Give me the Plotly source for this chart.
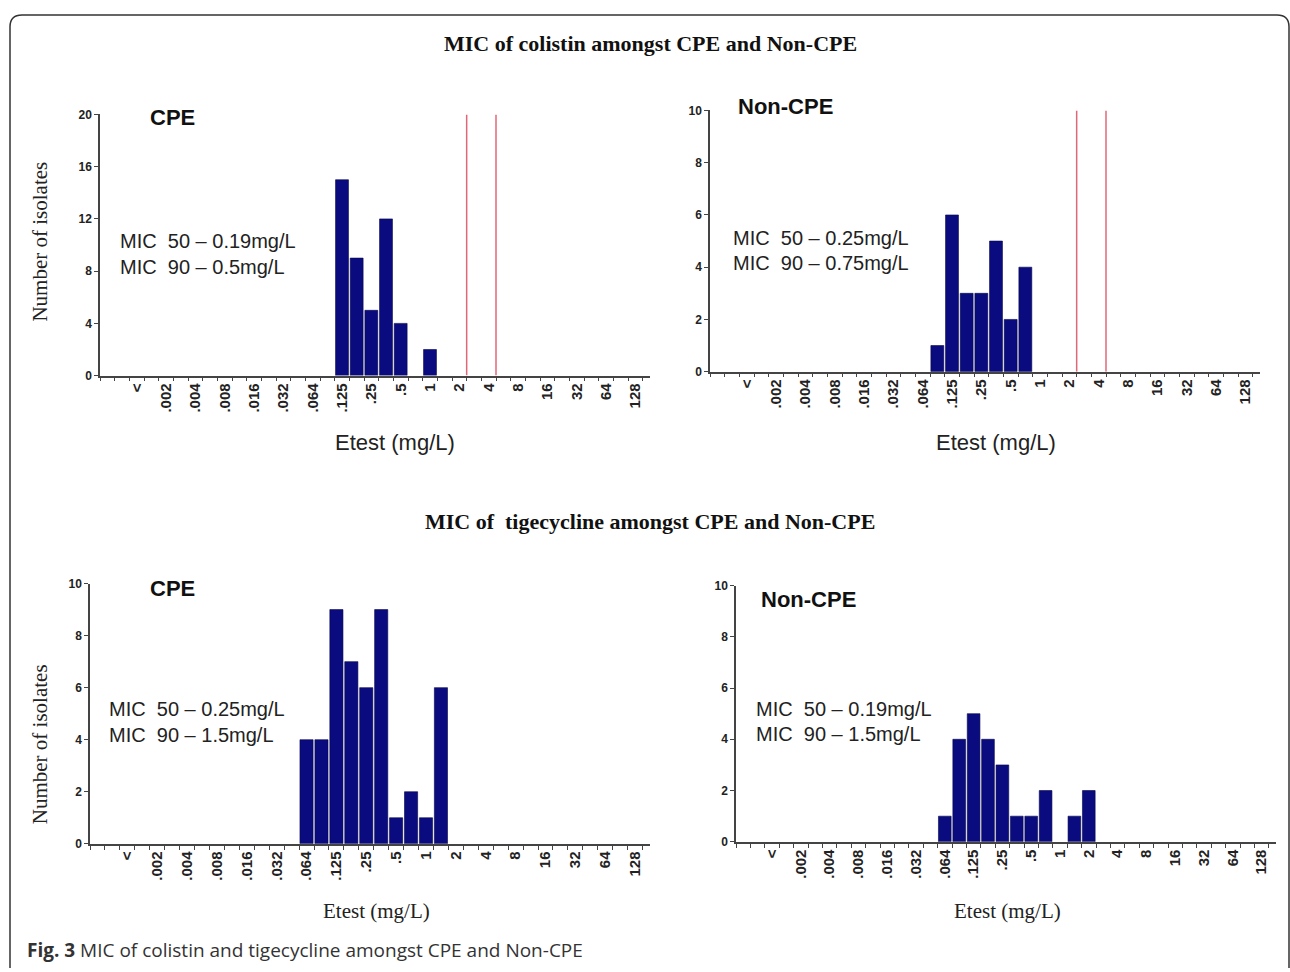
import plotly.graph_objects as go

# ---- data ----
bins = ["pad0", "pad1", "<", "pad3", ".002", ".003", ".004", ".006", ".008", ".012",
        ".016", ".023", ".032", ".047", ".064", ".094", ".125", ".19", ".25", ".38",
        ".5", ".75", "1", "1.5", "2", "3", "4", "6", "8", "12", "16", "24", "32",
        "48", "64", "96", "128"]
labelled_bins = ["<", ".002", ".004", ".008", ".016", ".032", ".064", ".125", ".25",
                 ".5", "1", "2", "4", "8", "16", "32", "64", "128"]

col_cpe_mic = [".125", ".19", ".25", ".38", ".5", "1"]
col_cpe_n = [15, 9, 5, 12, 4, 2]
col_non_mic = [".094", ".125", ".19", ".25", ".38", ".5", ".75"]
col_non_n = [1, 6, 3, 3, 5, 2, 4]
tig_cpe_mic = [".064", ".094", ".125", ".19", ".25", ".38", ".5", ".75", "1", "1.5"]
tig_cpe_n = [4, 4, 9, 7, 6, 9, 1, 2, 1, 6]
tig_non_mic = [".064", ".094", ".125", ".19", ".25", ".38", ".5", ".75", "1.5", "2"]
tig_non_n = [1, 4, 5, 4, 3, 1, 1, 2, 1, 2]

colistin_breakpoints = ["2", "4"]

panel_names = ["CPE", "Non-CPE", "CPE", "Non-CPE"]
mic50_text = ["MIC  50 – 0.19mg/L", "MIC  50 – 0.25mg/L", "MIC  50 – 0.25mg/L", "MIC  50 – 0.19mg/L"]
mic90_text = ["MIC  90 – 0.5mg/L", "MIC  90 – 0.75mg/L", "MIC  90 – 1.5mg/L", "MIC  90 – 1.5mg/L"]
y_max = [20, 10, 10, 10]
y_step = [4, 2, 2, 2]

W, H = 1290, 972
def px(x): return x / W
def py(y): return 1 - y / H

BAR = "#0b0b80"
AX = "#444444"
RED = "#df6878"

fig = go.Figure()

series = [(col_cpe_mic, col_cpe_n), (col_non_mic, col_non_n),
          (tig_cpe_mic, tig_cpe_n), (tig_non_mic, tig_non_n)]
domains_x = [(100, 650), (710, 1260), (90, 650), (736, 1276)]
domains_y = [(109, 374), (105, 370), (585, 849), (587, 847)]

ticktext = [b if b in labelled_bins else "" for b in bins]

for i, (mic, n) in enumerate(series):
    sfx = "" if i == 0 else str(i + 1)
    fig.add_trace(go.Bar(x=mic, y=n, xaxis="x" + sfx, yaxis="y" + sfx,
                         marker=dict(color=BAR, line=dict(color="#05054a", width=0.6)),
                         width=0.88, showlegend=False))
    xa = dict(type="category", categoryorder="array", categoryarray=bins,
              domain=[px(domains_x[i][0]), px(domains_x[i][1])],
              anchor="y" + sfx, range=[-0.5, 37.0],
              tickmode="array", tickvals=bins, ticktext=ticktext, tickson="boundaries",
              tickangle=-90, ticks="outside", ticklen=4, tickwidth=1.2, tickcolor=AX,
              showline=True, linecolor=AX, linewidth=1.5, showgrid=False, zeroline=False,
              tickfont=dict(family="Liberation Sans", size=15, color="#222", weight="bold"))
    ya = dict(domain=[py(domains_y[i][1]), py(domains_y[i][0])], anchor="x" + sfx,
              range=[0, y_max[i]], tickmode="linear", tick0=0, dtick=y_step[i],
              ticks="outside", ticklen=4, tickwidth=1.2, tickcolor=AX,
              showline=True, linecolor=AX, linewidth=1.5, showgrid=False, zeroline=False,
              tickfont=dict(family="Liberation Sans", size=12, color="#222", weight="bold"))
    fig.update_layout(**{"xaxis" + sfx: xa, "yaxis" + sfx: ya})

# colistin breakpoint lines (upper boundary of the breakpoint bins)
for i in (0, 1):
    sfx = "" if i == 0 else str(i + 1)
    for b in colistin_breakpoints:
        xb = bins.index(b) + 0.5
        fig.add_shape(type="line", xref="x" + sfx, yref="y" + sfx,
                      x0=xb, x1=xb, y0=0, y1=y_max[i],
                      line=dict(color=RED, width=1.5))

ann = []
def add(text, x, y, size, family="Liberation Sans", xanchor="center", color="#111", angle=0):
    ann.append(dict(text=text, x=px(x), y=py(y), xref="paper", yref="paper",
                    xanchor=xanchor, yanchor="middle", showarrow=False, textangle=angle,
                    font=dict(family=family, size=size, color=color)))

add("<b>MIC of colistin amongst CPE and Non-CPE</b>", 650, 37, 22, "Liberation Serif")
add("<b>MIC of  tigecycline amongst CPE and Non-CPE</b>", 650, 522, 22, "Liberation Serif")

name_pos = [(172, 112), (786, 101), (172, 590), (808, 601)]
mic_pos = [(118, 237, 264), (731, 234, 260), (107, 712, 739), (754, 712, 738)]
for i in range(4):
    add("<b>" + panel_names[i] + "</b>", name_pos[i][0], name_pos[i][1], 22)
    add(mic50_text[i], mic_pos[i][0], mic_pos[i][1], 20, xanchor="left", color="#222")
    add(mic90_text[i], mic_pos[i][0], mic_pos[i][2], 20, xanchor="left", color="#222")

add("Number of isolates", 40, 238, 21, "Liberation Serif", angle=-90, color="#222")
add("Number of isolates", 40, 748, 21, "Liberation Serif", angle=-90, color="#222")
add("Etest (mg/L)", 395, 442, 22, color="#222")
add("Etest (mg/L)", 996, 442, 22, color="#222")
add("Etest (mg/L)", 377, 917, 21, "Liberation Serif", color="#222")
add("Etest (mg/L)", 1007, 917, 21, "Liberation Serif", color="#222")
add("<b>Fig. 3</b> MIC of colistin and tigecycline amongst CPE and Non-CPE", 25, 957, 19,
    "Open Sans", xanchor="left", color="#333")

# outer rounded frame
fig.add_shape(type="path", xref="paper", yref="paper",
              path=f"M {px(10)},{py(975)} L {px(10)},{py(20)} Q {px(10)},{py(8)} {px(22)},{py(8)} "
                   f"L {px(1277)},{py(8)} Q {px(1289)},{py(8)} {px(1289)},{py(20)} L {px(1289)},{py(975)}",
              line=dict(color="#333", width=1.5))

fig.update_layout(annotations=ann, width=W, height=H, margin=dict(l=0, r=0, t=0, b=0),
                  paper_bgcolor="white", plot_bgcolor="white", bargap=0.1)

fig.write_html("out.html", config={"displayModeBar": False},
               post_script="document.body.style.margin='0';")
